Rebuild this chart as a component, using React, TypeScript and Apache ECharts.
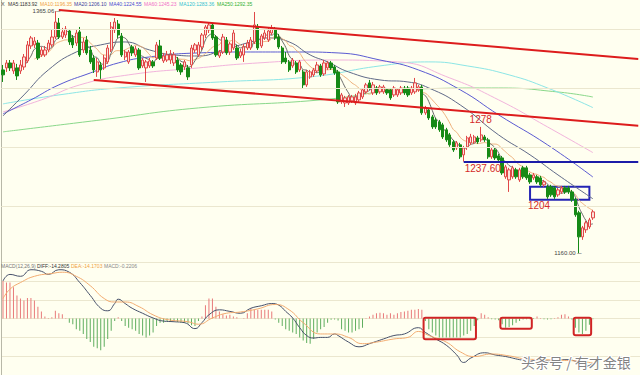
import React, { useEffect, useRef } from 'react';
import * as echarts from 'echarts';

const categoryCount = 183;
const categories: string[] = Array.from({ length: categoryCount }, (_, i) => 'D' + (i + 1));

// [open, close, low, high]
const ohlc: number[][] = [
  [1315.3, 1311.1, 1305.1, 1319.5], [1317.0, 1321.2, 1313.6, 1323.7], [1321.2, 1317.0, 1314.4, 1323.7],
  [1314.4, 1321.2, 1311.9, 1323.7], [1317.0, 1310.2, 1306.8, 1320.4], [1314.4, 1319.5, 1311.9, 1323.7],
  [1317.8, 1326.3, 1315.3, 1328.8], [1322.9, 1336.5, 1321.2, 1339.8], [1335.6, 1342.4, 1333.1, 1344.1],
  [1336.5, 1339.8, 1333.9, 1343.2], [1338.1, 1325.4, 1323.7, 1340.7], [1328.0, 1332.2, 1326.3, 1334.8],
  [1328.0, 1332.2, 1326.3, 1335.6], [1332.2, 1338.1, 1330.5, 1340.7], [1336.5, 1343.2, 1334.8, 1349.2],
  [1343.2, 1355.9, 1341.5, 1365.06], [1355.1, 1343.2, 1341.5, 1359.3], [1343.2, 1347.5, 1341.5, 1350.9],
  [1344.9, 1350.0, 1342.4, 1352.5], [1348.3, 1339.0, 1336.5, 1350.0], [1342.4, 1336.5, 1333.9, 1344.9],
  [1338.1, 1346.6, 1335.6, 1349.2], [1347.5, 1328.0, 1326.3, 1351.7], [1332.2, 1339.0, 1329.7, 1342.4],
  [1340.7, 1329.7, 1328.0, 1344.1], [1332.2, 1322.1, 1320.4, 1335.6], [1325.4, 1315.3, 1312.7, 1328.0],
  [1313.6, 1322.1, 1309.4, 1325.4], [1319.5, 1315.3, 1307.7, 1322.1], [1317.0, 1325.4, 1315.3, 1328.0],
  [1322.1, 1333.9, 1320.4, 1336.5], [1332.2, 1351.7, 1330.5, 1355.9], [1349.2, 1355.9, 1346.6, 1359.3],
  [1354.2, 1344.9, 1342.4, 1357.6], [1344.1, 1328.0, 1326.3, 1346.6], [1326.3, 1330.5, 1323.7, 1332.2],
  [1322.1, 1330.5, 1320.4, 1332.2], [1334.8, 1329.7, 1327.1, 1336.5], [1328.0, 1333.1, 1326.3, 1335.6],
  [1332.2, 1317.0, 1315.3, 1333.9], [1318.7, 1323.7, 1317.0, 1325.4], [1317.0, 1322.1, 1305.1, 1323.7],
  [1318.7, 1322.9, 1317.0, 1325.4], [1322.1, 1318.7, 1317.0, 1323.7], [1325.4, 1336.5, 1323.7, 1339.0],
  [1335.6, 1325.4, 1323.7, 1340.7], [1322.9, 1327.1, 1321.2, 1329.7], [1323.7, 1328.0, 1322.1, 1331.4],
  [1323.7, 1328.0, 1320.4, 1332.2], [1321.2, 1328.0, 1318.7, 1330.5], [1323.7, 1315.3, 1313.6, 1326.3],
  [1319.5, 1313.6, 1311.1, 1321.2], [1317.8, 1322.1, 1315.3, 1323.7], [1317.0, 1309.4, 1306.8, 1319.5],
  [1319.5, 1333.9, 1317.0, 1336.5], [1332.2, 1336.5, 1329.7, 1338.1], [1328.0, 1336.5, 1326.3, 1339.0],
  [1334.8, 1344.9, 1332.2, 1346.6], [1344.9, 1351.7, 1342.4, 1353.4], [1349.2, 1353.4, 1346.6, 1355.9],
  [1353.4, 1342.4, 1340.7, 1355.1], [1343.2, 1328.0, 1326.3, 1344.9], [1327.1, 1330.5, 1325.4, 1332.2],
  [1330.5, 1343.2, 1328.8, 1345.8], [1340.7, 1329.7, 1328.0, 1343.2], [1330.5, 1337.3, 1328.0, 1339.0],
  [1333.9, 1346.6, 1332.2, 1349.2], [1333.9, 1325.4, 1323.7, 1336.5], [1327.1, 1330.5, 1325.4, 1333.1],
  [1328.0, 1334.8, 1322.1, 1337.3], [1333.9, 1338.1, 1332.2, 1340.7], [1333.9, 1340.7, 1332.2, 1343.2],
  [1339.0, 1353.4, 1337.3, 1364.4], [1351.7, 1333.9, 1332.2, 1354.2], [1335.6, 1344.1, 1333.9, 1345.8],
  [1342.4, 1346.6, 1340.7, 1349.2], [1340.7, 1348.3, 1339.0, 1350.9], [1346.6, 1350.9, 1344.9, 1353.4],
  [1349.2, 1342.4, 1340.7, 1351.7], [1343.2, 1334.8, 1333.1, 1345.8], [1333.9, 1322.1, 1320.4, 1335.6],
  [1325.4, 1322.1, 1320.4, 1330.5], [1322.1, 1315.3, 1313.6, 1323.7], [1318.7, 1323.7, 1317.0, 1325.4],
  [1321.2, 1313.6, 1311.9, 1322.9], [1315.3, 1322.1, 1313.6, 1323.7], [1313.6, 1302.6, 1300.0, 1315.3],
  [1302.6, 1313.6, 1300.9, 1315.3], [1309.4, 1313.6, 1307.7, 1315.3], [1311.1, 1315.3, 1309.4, 1317.0],
  [1314.4, 1319.5, 1312.7, 1322.1], [1318.7, 1311.1, 1309.4, 1320.4], [1311.9, 1321.2, 1310.2, 1323.7],
  [1317.0, 1321.2, 1315.3, 1322.9], [1321.2, 1317.0, 1315.3, 1322.9], [1317.8, 1312.7, 1311.1, 1319.5],
  [1313.6, 1288.2, 1286.5, 1315.3], [1288.2, 1294.1, 1286.5, 1295.8], [1287.3, 1291.6, 1283.9, 1293.3],
  [1287.3, 1292.4, 1285.6, 1294.1], [1289.0, 1292.4, 1287.3, 1294.1], [1287.3, 1292.4, 1285.6, 1295.0],
  [1289.9, 1295.8, 1288.2, 1297.5], [1292.4, 1298.4, 1290.7, 1300.0], [1296.7, 1302.6, 1295.0, 1304.3],
  [1304.3, 1300.0, 1298.4, 1306.8], [1295.8, 1302.6, 1294.1, 1305.1], [1300.0, 1295.8, 1294.1, 1301.7],
  [1296.7, 1300.9, 1295.0, 1302.6], [1296.7, 1300.9, 1295.0, 1302.6], [1298.4, 1295.8, 1294.1, 1300.0],
  [1298.4, 1291.6, 1289.9, 1300.0], [1294.1, 1300.0, 1292.4, 1301.7], [1294.1, 1298.4, 1292.4, 1300.0],
  [1295.8, 1300.0, 1294.1, 1301.7], [1300.0, 1295.8, 1294.1, 1301.7], [1300.0, 1294.1, 1292.4, 1301.7],
  [1295.8, 1300.0, 1294.1, 1301.7], [1296.7, 1304.3, 1295.0, 1308.5], [1298.4, 1300.9, 1296.7, 1302.6],
  [1300.9, 1278.9, 1277.2, 1302.6], [1278.9, 1283.1, 1277.2, 1284.8], [1281.4, 1274.6, 1272.9, 1283.1],
  [1275.5, 1267.0, 1265.3, 1277.2], [1272.9, 1267.0, 1265.3, 1274.6], [1271.2, 1264.5, 1262.8, 1272.9],
  [1268.7, 1258.5, 1256.8, 1270.4], [1264.5, 1256.0, 1254.3, 1266.2], [1260.2, 1251.8, 1250.1, 1261.9],
  [1254.3, 1247.5, 1245.8, 1256.0], [1249.2, 1253.5, 1247.5, 1255.1], [1251.8, 1241.6, 1239.9, 1253.5],
  [1243.3, 1249.2, 1237.6, 1250.9], [1250.1, 1257.7, 1247.5, 1259.4], [1253.5, 1258.5, 1251.8, 1261.1],
  [1254.3, 1258.5, 1252.6, 1260.2], [1257.7, 1254.3, 1252.6, 1259.4], [1256.0, 1260.2, 1254.3, 1267.0],
  [1258.5, 1256.0, 1254.3, 1260.2], [1256.0, 1241.6, 1239.9, 1257.7], [1241.6, 1247.5, 1239.9, 1249.2],
  [1247.5, 1240.7, 1239.0, 1249.2], [1242.4, 1239.0, 1238.2, 1244.1], [1240.7, 1228.0, 1226.3, 1242.4],
  [1224.7, 1233.1, 1223.0, 1234.8], [1222.1, 1230.6, 1211.9, 1232.3], [1224.7, 1232.3, 1223.0, 1234.0],
  [1230.6, 1224.7, 1223.0, 1232.3], [1222.1, 1230.6, 1220.4, 1232.3], [1232.3, 1224.7, 1223.0, 1234.0],
  [1232.3, 1223.8, 1222.1, 1234.0], [1226.3, 1220.4, 1218.7, 1228.0], [1223.8, 1226.3, 1222.1, 1228.0],
  [1224.7, 1220.4, 1218.7, 1226.3], [1223.8, 1217.9, 1216.2, 1225.5], [1217.9, 1220.4, 1216.2, 1222.1],
  [1216.2, 1207.7, 1206.0, 1217.9], [1216.2, 1209.4, 1207.7, 1217.9], [1215.3, 1207.7, 1206.0, 1217.0],
  [1209.4, 1213.6, 1207.7, 1215.3], [1211.9, 1215.3, 1210.2, 1217.0], [1215.3, 1211.9, 1210.2, 1217.0],
  [1215.3, 1211.9, 1210.2, 1217.0], [1211.9, 1205.2, 1203.5, 1213.6], [1205.2, 1192.5, 1190.8, 1206.9],
  [1194.2, 1173.8, 1160.0, 1195.9], [1173.8, 1181.5, 1171.3, 1183.1], [1179.8, 1185.7, 1177.2, 1187.4],
  [1182.3, 1188.2, 1180.6, 1189.9], [1189.9, 1195.0, 1188.2, 1196.7],
];

// long moving averages: [candle index, price]
const ma20Points: number[][] = [
  [0, 1276.3], [6, 1294.1], [13, 1315.3], [21, 1330.5], [28, 1336.5], [35, 1339.0], [42, 1332.2],
  [49, 1328.0], [56, 1327.1], [63, 1332.2], [71, 1339.0], [76, 1342.4], [82, 1339.0], [88, 1328.0],
  [93, 1322.1], [99, 1313.6], [108, 1306.8], [116, 1305.1], [122, 1300.0], [131, 1285.6],
  [142, 1260.2], [151, 1243.3], [159, 1226.3], [169, 1206.1],
];
const ma40Points: number[][] = [
  [0, 1278.0], [8, 1289.9], [16, 1302.6], [25, 1312.7], [33, 1321.2], [42, 1326.3], [56, 1329.7],
  [71, 1330.5], [85, 1330.5], [96, 1329.7], [108, 1323.7], [119, 1315.3], [131, 1298.4],
  [142, 1277.2], [156, 1251.8], [169, 1224.55],
];
const ma60Points: number[][] = [
  [0, 1279.7], [11, 1289.9], [22, 1302.6], [36, 1311.1], [56, 1317.0], [73, 1321.2], [93, 1323.7],
  [113, 1322.1], [128, 1308.5], [142, 1289.9], [156, 1267.0], [169, 1245.23],
];
const ma120Points: number[][] = [
  [0, 1286.5], [16, 1294.1], [33, 1300.0], [62, 1305.1], [88, 1309.4], [108, 1318.7], [122, 1322.1],
  [133, 1318.7], [145, 1311.1], [156, 1300.0], [169, 1283.36],
];
const ma250Points: number[][] = [
  [0, 1262.8], [28, 1272.9], [56, 1283.1], [91, 1289.9], [119, 1299.2], [142, 1300.0],
  [159, 1296.6], [169, 1292.35],
];

const macdHist: number[] = [
  12.0, 11.5, 11.5, 10.0, 7.4, 6.4, 5.8, 6.6, 6.6, 5.8, 3.8, 2.3, 0.7, 0.2, 0.4, 2.5, 1.7, 1.4, 0.2, -1.3,
  -1.8, -3.4, -3.9, -4.9, -6.5, -7.5, -9.0, -9.5, -10.1, -9.0, -6.5, -3.9, -0.8, 0.4, -0.8, -2.4, -2.9, -3.4, -3.9, -4.9,
  -5.4, -6.0, -5.4, -4.4, -2.4, -1.3, -1.3, -0.8, -1.0, -0.8, -1.1, -1.3, -1.3, -1.6, -2.1, -2.4, -0.8, 0.7, 4.3, 6.4,
  6.4, 3.8, 2.3, 1.4, 1.0, 1.2, 0.7, 0.4, 0, 0.2, 1.7, 3.3, 2.8, 2.8, 2.8, 2.8, 2.8, 2.3, -0.3, -1.3,
  -2.4, -3.4, -3.9, -4.4, -4.9, -6.0, -7.0, -7.8, -8.0, -6.5, -4.4, -3.4, -2.7, -1.3, -0.4, -0.3, -0.6, -3.4, -3.9, -4.4,
  -4.4, -3.9, -3.4, -2.9, 0.2, 0.7, 1.2, 1.7, 1.9, 1.7, 1.2, 1.7, 1.2, 1.7, 2.1, 2.3, 2.5, 2.8, 2.8, 3.1,
  2.8, -0.8, -3.4, -4.4, -5.4, -6.0, -6.0, -6.0, -6.0, -6.0, -6.0, -6.0, -5.4, -4.9, -3.9, -2.4, -0.5, 1.7, 1.2, 0.4,
  -0.2, -0.3, -0.5, -1.8, -2.9, -2.7, -2.1, -1.3, -0.8, -0.3, -0.2, -0.2, -0.1, 0.7, 0.2, -0.2, -0.3, -0.2, 0.2, 0.4,
  1.2, 1.4, 0.7, -0.3, -2.9, -4.4, -4.9, -3.9, -2.0, -0.2206,
];
const diffPoints: number[][] = [
  [0, 12.0], [2, 14.1], [5, 13.5], [8, 15.6], [11, 15.1], [13, 14.1], [16, 15.6], [19, 14.8], [22, 11.5],
  [25, 7.4], [28, 3.3], [30, 2.5], [32, 4.8], [33, 6.2], [35, 4.8], [37, 3.3], [40, 1.7], [43, 0.2],
  [46, -0.8], [49, -1.0], [52, -1.3], [55, -3.2], [57, -1.3], [59, 1.2], [62, 2.8], [65, 2.3], [68, 1.7],
  [71, 3.3], [74, 4.1], [77, 4.8], [79, 4.3], [81, 2.3], [83, 0.2], [85, -2.9], [87, -5.4], [89, -6.2],
  [91, -6.0], [93, -6.0], [95, -4.9], [96, -5.4], [99, -7.5], [102, -9.0], [105, -8.0], [109, -6.5],
  [112, -5.4], [115, -4.9], [119, -2.9], [121, -4.4], [124, -6.5], [127, -8.5], [130, -11.6], [132, -14.0],
  [134, -12.6], [138, -10.9], [141, -11.6], [144, -12.1], [148, -13.1], [151, -13.6], [153, -13.1],
  [157, -13.6], [161, -13.1], [164, -13.6], [167, -15.2], [169, -14.2805],
];
const deaPoints: number[][] = [
  [0, 6.4], [2, 9.4], [5, 11.5], [9, 13.5], [14, 14.4], [17, 14.8], [21, 13.5], [25, 10.5], [29, 6.4],
  [32, 5.3], [35, 5.3], [39, 3.8], [43, 1.2], [47, -0.3], [53, -1.0], [56, -1.8], [60, 0.2], [64, 1.7],
  [68, 2.1], [73, 3.1], [78, 4.5], [82, 2.8], [86, -1.3], [91, -4.9], [95, -4.9], [99, -6.0], [103, -8.0],
  [107, -7.5], [112, -6.5], [116, -6.0], [119, -4.1], [122, -5.4], [127, -7.5], [131, -10.6], [135, -12.1],
  [140, -11.3], [145, -11.9], [150, -12.9], [155, -13.1], [160, -13.3], [165, -13.6], [169, -14.17],
];

const gridLevels: number[] = [1200, 1250, 1300, 1350];
const channelUpper: number[][] = [[16, 1366.1], [182, 1324.6]];
const channelLower: number[][] = [[26, 1306.8], [182, 1267.9]];
const supportLevel = 1237.6;
const supportStart = 132;
const boxRange: number[][] = [[151, 1216.2], [168, 1205.2]];
// MACD highlight boxes: [first index, last index, top value, bottom value]
const macdBoxes: number[][] = [
  [121, 135, 0.3, -6.6],
  [143, 151, 0.3, -3.2],
  [164, 168, 0.3, -5.3],
];

const maLegend: { text: string; color: string; x: number }[] = [
  { text: 'MA5:1183.92', color: '#333333', x: 8 },
  { text: 'MA10:1196.35', color: '#f0a040', x: 40 },
  { text: 'MA20:1206.10', color: '#3c3c9c', x: 74 },
  { text: 'MA40:1224.55', color: '#4a4ad0', x: 109 },
  { text: 'MA60:1245.23', color: '#f070c8', x: 144 },
  { text: 'MA120:1283.36', color: '#30c0d0', x: 179 },
  { text: 'MA250:1292.35', color: '#30b030', x: 217 },
];
const macdLegend: { text: string; color: string; x: number }[] = [
  { text: 'MACD(12,26,9)', color: '#777777', x: 1 },
  { text: 'DIFF:-14.2805', color: '#333333', x: 37 },
  { text: 'DEA:-14.1703', color: '#f0a040', x: 71 },
  { text: 'MACD:-0.2206', color: '#888888', x: 104 },
];

function movingAverage(closes: number[], n: number): (number | null)[] {
  const out: (number | null)[] = [];
  for (let i = 0; i < closes.length; i++) {
    if (i < n - 1) { out.push(null); continue; }
    let s = 0;
    for (let k = i - n + 1; k <= i; k++) s += closes[k];
    out.push(+(s / n).toFixed(2));
  }
  return out;
}

const App: React.FC = () => {
  const ref = useRef<HTMLDivElement>(null);

  useEffect(() => {
    document.body.style.margin = '0';
    if (!ref.current) return;
    const chart = echarts.init(ref.current, undefined, { renderer: 'svg' });
    const closes = ohlc.map((d) => d[1]);
    const ma5 = movingAverage(closes, 5);
    const ma10 = movingAverage(closes, 10);
    const font = 'Liberation Sans, Arial, sans-serif';

    const maLine = (name: string, data: any[], color: string) => ({
      name,
      type: 'line',
      xAxisIndex: 0,
      yAxisIndex: 0,
      data,
      smooth: true,
      showSymbol: false,
      symbol: 'none',
      connectNulls: false,
      lineStyle: { color, width: 1 },
      z: 3,
      silent: true,
    });

    const lblPoint = (coord: number[], text: string, color: string, size: number, offset: number[]) => ({
      coord,
      symbol: 'circle',
      symbolSize: 1,
      itemStyle: { color: 'rgba(0,0,0,0)' },
      label: {
        show: true,
        position: 'inside',
        formatter: text,
        color,
        fontSize: size,
        fontFamily: font,
        offset,
      },
    });

    const baseGraphic: any[] = [
      {
        id: 'x', type: 'text', left: 1, top: 1, z: 10,
        style: { text: 'X', fill: '#555', fontSize: 5.5, fontFamily: font },
      },
      ...maLegend.map((m, i) => ({
        id: 'ma' + i, type: 'text', left: m.x, top: 1, z: 10,
        style: { text: m.text, fill: m.color, fontSize: 5, fontFamily: font },
      })),
      ...macdLegend.map((m, i) => ({
        id: 'macd' + i, type: 'text', left: m.x, top: 263, z: 10,
        style: { text: m.text, fill: m.color, fontSize: 5, fontFamily: font },
      })),
      {
        id: 'wm', type: 'text', left: 520, top: 354, z: 10,
        style: {
          text: '头条号 / 有才金银',
          fill: 'rgba(110,110,110,0.85)',
          stroke: '#ffffff',
          lineWidth: 2,
          fontSize: 14,
          fontFamily: 'Noto Sans CJK SC, sans-serif',
        },
      },
    ];

    const option: any = {
      animation: false,
      backgroundColor: '#fffff0',
      grid: [
        { left: 1.25, top: 0, width: categoryCount * 3.5, height: 262 },
        { left: 1.25, top: 262.2, width: categoryCount * 3.5, height: 117 },
      ],
      xAxis: [
        {
          type: 'category', gridIndex: 0, data: categories, boundaryGap: true,
          axisLine: { show: false }, axisTick: { show: false }, axisLabel: { show: false }, splitLine: { show: false },
        },
        {
          type: 'category', gridIndex: 1, data: categories, boundaryGap: true,
          axisLine: { show: false }, axisTick: { show: false }, axisLabel: { show: false }, splitLine: { show: false },
        },
      ],
      yAxis: [
        {
          type: 'value', gridIndex: 0, min: 1152.5, max: 1374.56,
          axisLine: { show: true, lineStyle: { color: '#b8b8a8' } },
          axisTick: { show: false }, axisLabel: { show: false }, splitLine: { show: false },
        },
        {
          type: 'value', gridIndex: 1, min: -18, max: 18, interval: 6,
          axisLine: { show: true, lineStyle: { color: '#b8b8a8' } },
          axisTick: { show: false }, axisLabel: { show: false },
          splitLine: { show: true, lineStyle: { color: '#ebe7cf', width: 1 } },
        },
      ],
      series: [
        {
          name: 'grid',
          type: 'line',
          xAxisIndex: 0,
          yAxisIndex: 0,
          data: [],
          z: 0,
          silent: true,
          markLine: {
            silent: true,
            symbol: ['none', 'none'],
            label: { show: false },
            lineStyle: { color: '#ebe7cf', type: 'solid', width: 1 },
            data: gridLevels.map((v) => ({ yAxis: v })),
          },
        },
        maLine('MA250', ma250Points, '#8ad88a'),
        maLine('MA120', ma120Points, '#8ce6e6'),
        maLine('MA60', ma60Points, '#f2b4dc'),
        maLine('MA40', ma40Points, '#5a5ad2'),
        maLine('MA20', ma20Points, '#606a88'),
        maLine('MA10', ma10, '#eeb07a'),
        maLine('MA5', ma5, '#6a6a6a'),
        {
          name: 'K',
          type: 'candlestick',
          xAxisIndex: 0,
          yAxisIndex: 0,
          data: ohlc,
          barWidth: 2.8,
          z: 4,
          itemStyle: {
            color: '#fbe4dc',
            color0: '#168a16',
            borderColor: '#e04848',
            borderColor0: '#168a16',
            borderWidth: 1,
          },
          markLine: {
            silent: true,
            symbol: ['none', 'none'],
            label: { show: false },
            data: [
              [
                { coord: channelUpper[0], lineStyle: { color: '#dd1c1c', width: 2, type: 'solid' } },
                { coord: channelUpper[1] },
              ],
              [
                { coord: channelLower[0], lineStyle: { color: '#dd1c1c', width: 2, type: 'solid' } },
                { coord: channelLower[1] },
              ],
              [
                { coord: [supportStart, supportLevel], lineStyle: { color: '#1c1ca8', width: 2, type: 'solid' } },
                { coord: [categoryCount - 1, supportLevel] },
              ],
            ],
          },
          markArea: {
            silent: true,
            itemStyle: { color: 'rgba(0,0,0,0)', borderColor: '#2424b4', borderWidth: 2 },
            data: [[{ coord: boxRange[0] }, { coord: boxRange[1] }]],
          },
          markPoint: {
            silent: true,
            data: [
              lblPoint([136, 1278], '1278', '#d42a2a', 10, [3, 6]),
              lblPoint([supportStart, supportLevel], '1237.60', '#d42a2a', 10, [19, 7]),
              lblPoint([151, 1204], '1204', '#d42a2a', 10, [9, 4]),
              lblPoint([15, 1365.06], '1365.06 ─', '#444444', 6, [-9, 0]),
              lblPoint([165, 1160], '1160.00 ─', '#444444', 6, [-11, 0]),
            ],
          },
        },
        {
          name: 'MACD',
          type: 'bar',
          xAxisIndex: 1,
          yAxisIndex: 1,
          barWidth: 1,
          data: macdHist.map((v) => ({
            value: v,
            itemStyle: { color: v >= 0 ? '#e87a7a' : '#5fae5f' },
          })),
        },
        {
          name: 'DIFF',
          type: 'line',
          xAxisIndex: 1,
          yAxisIndex: 1,
          data: diffPoints,
          smooth: true,
          showSymbol: false,
          symbol: 'none',
          lineStyle: { color: '#46506a', width: 1 },
          z: 3,
        },
        {
          name: 'DEA',
          type: 'line',
          xAxisIndex: 1,
          yAxisIndex: 1,
          data: deaPoints,
          smooth: true,
          showSymbol: false,
          symbol: 'none',
          lineStyle: { color: '#f2ab70', width: 1 },
          z: 3,
        },
      ],
      graphic: baseGraphic,
    };
    chart.setOption(option);

    // place the MACD highlight boxes through the MACD panel's own scales
    const p0 = chart.convertToPixel({ xAxisIndex: 1, yAxisIndex: 1 } as any, [0, 0]) as number[];
    const p1 = chart.convertToPixel({ xAxisIndex: 1, yAxisIndex: 1 } as any, [1, 0]) as number[];
    const band = p1[0] - p0[0];
    const boxGraphics = macdBoxes.map((b, i) => {
      const a = chart.convertToPixel({ xAxisIndex: 1, yAxisIndex: 1 } as any, [b[0], b[2]]) as number[];
      const c = chart.convertToPixel({ xAxisIndex: 1, yAxisIndex: 1 } as any, [b[1], b[3]]) as number[];
      const x = a[0] - band / 2;
      const w = c[0] + band / 2 - x;
      return {
        id: 'box' + i,
        type: 'rect',
        z: 10,
        shape: { x, y: a[1], width: w, height: c[1] - a[1], r: 2 },
        style: { fill: 'none', stroke: '#d02424', lineWidth: 2 },
        silent: true,
      };
    });
    chart.setOption({ graphic: [...baseGraphic, ...boxGraphics] });

    return () => chart.dispose();
  }, []);

  return <div ref={ref} style={{ width: 640, height: 375, background: '#fffff0' }} />;
};

export default App;
